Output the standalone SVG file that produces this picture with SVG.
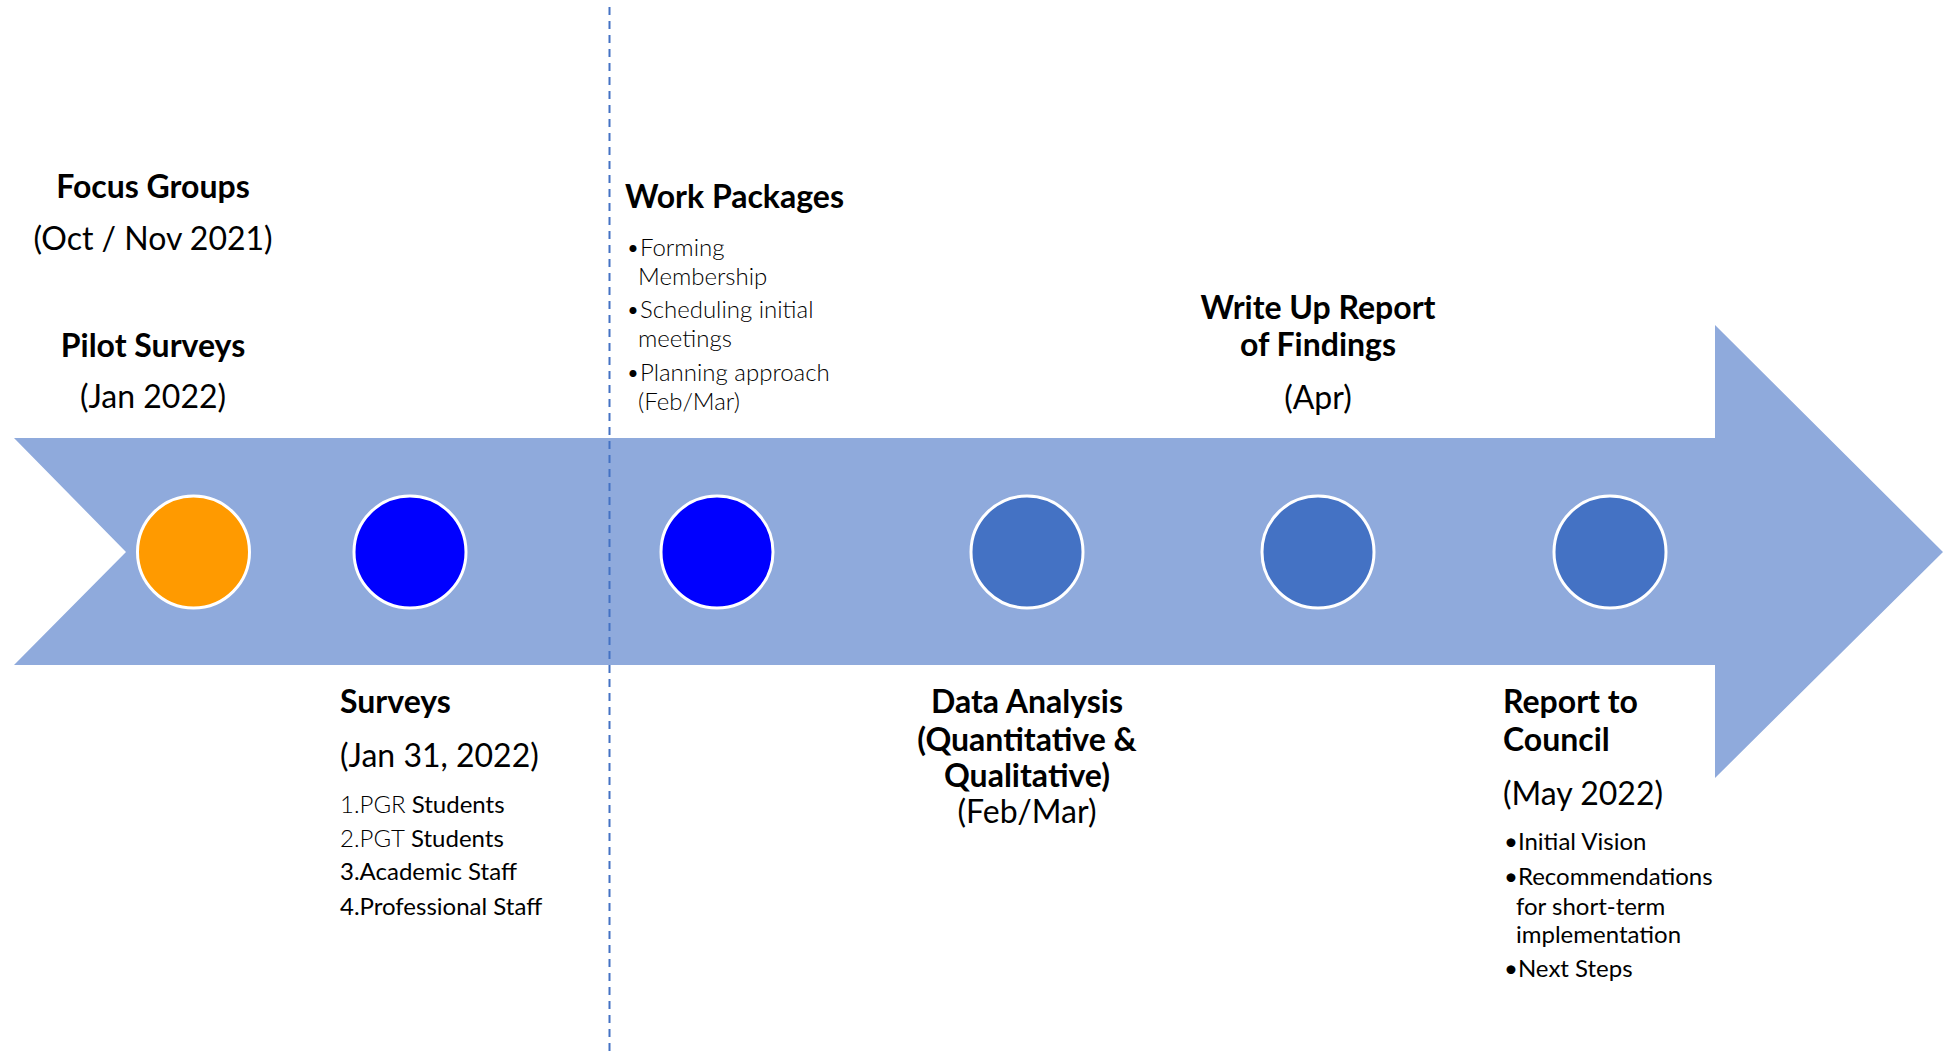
<svg xmlns="http://www.w3.org/2000/svg" width="1955" height="1053" viewBox="0 0 1955 1053">
  <style>
    text { font-family: Lato, "Open Sans", "Liberation Sans", sans-serif; fill: #000; }
    .title { font-size: 32px; font-weight: 700; }
    .date { font-size: 32px; font-weight: 400; }
    .item { font-size: 24px; font-weight: 400; }
    .light { font-weight: 300; }
    .mid { text-anchor: middle; }
    .band { fill: #8FAADC; }
    .dot { stroke: #FFFFFF; stroke-width: 3; }
    .divider { stroke: #4472C4; stroke-width: 2; stroke-dasharray: 8 6; fill: none; }
  </style>

  <!-- timeline band -->
  <g id="timeline">
    <polygon class="band" points="14,438 1715,438 1715,325 1943,552 1715,778 1715,665 14,665 126,552"/>
  </g>

  <!-- divider -->
  <g id="connectors">
    <line class="divider" x1="609.5" y1="7" x2="609.5" y2="1053"/>
  </g>

  <!-- milestones -->
  <g id="m1">
    <circle class="dot" cx="193.5" cy="552" r="56" fill="#FF9A00"/>
    <text class="title mid" x="153" y="198">Focus Groups</text>
    <text class="date mid" x="153" y="250">(Oct / Nov 2021)</text>
    <text class="title mid" x="153" y="357">Pilot Surveys</text>
    <text class="date mid" x="153" y="408">(Jan 2022)</text>
  </g>

  <g id="m2">
    <circle class="dot" cx="410" cy="552" r="56" fill="#0000FF"/>
    <text class="title" x="340" y="713">Surveys</text>
    <text class="date" x="340" y="767">(Jan 31, 2022)</text>
    <text class="item" x="340" y="813"><tspan class="light">1.PGR</tspan> Students</text>
    <text class="item" x="340" y="847"><tspan class="light">2.PGT</tspan> Students</text>
    <text class="item" x="340" y="880">3.Academic Staff</text>
    <text class="item" x="340" y="915">4.Professional Staff</text>
  </g>

  <g id="m3">
    <circle class="dot" cx="717" cy="552" r="56" fill="#0000FF"/>
    <text class="title" x="625" y="208">Work Packages</text>
    <text class="item light" x="626" y="256">•Forming</text>
    <text class="item light" x="638" y="285">Membership</text>
    <text class="item light" x="626" y="318">•Scheduling initial</text>
    <text class="item light" x="638" y="347">meetings</text>
    <text class="item light" x="626" y="381">•Planning approach</text>
    <text class="item light" x="638" y="410">(Feb/Mar)</text>
  </g>

  <g id="m4">
    <circle class="dot" cx="1027" cy="552" r="56" fill="#4472C4"/>
    <text class="title mid" x="1027" y="713">Data Analysis</text>
    <text class="title mid" x="1027" y="751">(Quantitative &amp;</text>
    <text class="title mid" x="1027" y="787">Qualitative)</text>
    <text class="date mid" x="1027" y="823">(Feb/Mar)</text>
  </g>

  <g id="m5">
    <circle class="dot" cx="1318" cy="552" r="56" fill="#4472C4"/>
    <text class="title mid" x="1318" y="319">Write Up Report</text>
    <text class="title mid" x="1318" y="356">of Findings</text>
    <text class="date mid" x="1318" y="409">(Apr)</text>
  </g>

  <g id="m6">
    <circle class="dot" cx="1610" cy="552" r="56" fill="#4472C4"/>
    <text class="title" x="1503" y="713">Report to</text>
    <text class="title" x="1503" y="751">Council</text>
    <text class="date" x="1503" y="805">(May 2022)</text>
    <text class="item" x="1504" y="850">•Initial Vision</text>
    <text class="item" x="1504" y="885">•Recommendations</text>
    <text class="item" x="1516" y="915">for short-term</text>
    <text class="item" x="1516" y="943">implementation</text>
    <text class="item" x="1504" y="977">•Next Steps</text>
  </g>
</svg>
